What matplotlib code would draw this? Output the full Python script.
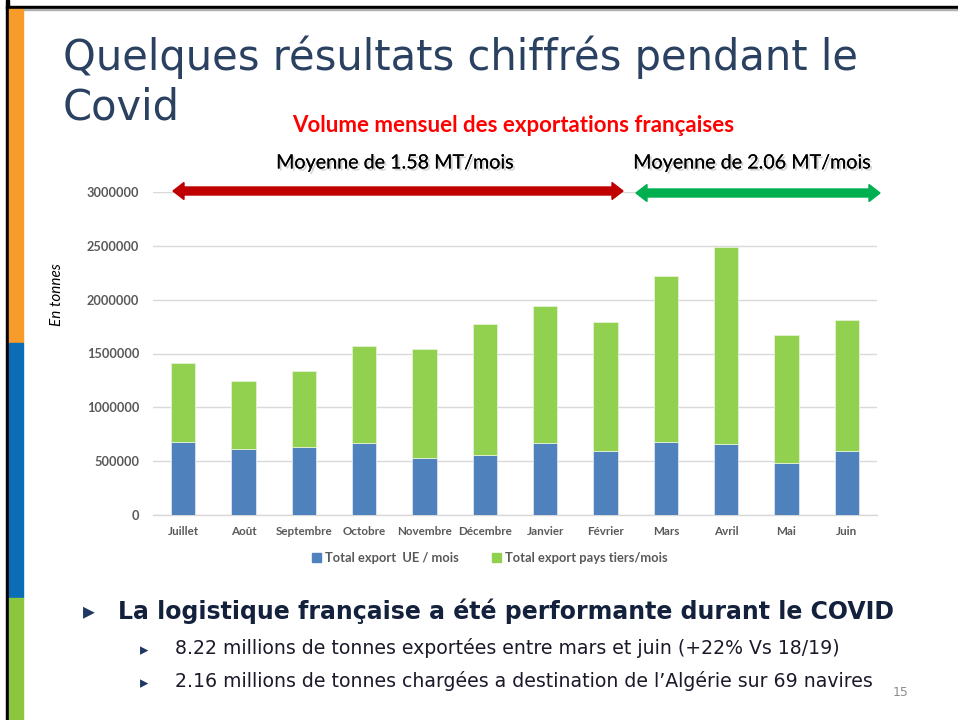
import numpy as np
import matplotlib.pyplot as plt
import matplotlib.patheffects as pe
from matplotlib.patches import Rectangle, Polygon, Patch

mois = ['Juillet', 'Août', 'Septembre', 'Octobre', 'Novembre', 'Décembre',
        'Janvier', 'Février', 'Mars', 'Avril', 'Mai', 'Juin']
export_ue = [677000, 612000, 631000, 672000, 528000, 556000,
             672000, 590000, 674000, 662000, 479000, 594000]
export_total = [1414000, 1246000, 1337000, 1567000, 1542000, 1778000,
                1937000, 1794000, 2223000, 2491000, 1675000, 1815000]
export_tiers = [t - u for t, u in zip(export_total, export_ue)]
yticks = [0, 500000, 1000000, 1500000, 2000000, 2500000, 3000000]

W, H = 958, 720
fig = plt.figure(figsize=(W / 100, H / 100), dpi=100)

def fx(px):
    return px / W

def fy(py):
    return 1 - py / H

# slide frame and coloured side stripe
fig.patches.append(Rectangle((fx(6), fy(720)), fx(3), 1, color='black', transform=fig.transFigure))
fig.patches.append(Rectangle((fx(6), fy(9)), 1, 3 / H, color='black', transform=fig.transFigure))
fig.patches.append(Rectangle((fx(23), fy(10)), 1, 1 / H, color='#b0b0b0', transform=fig.transFigure))
for y0, y1, c in [(9, 343, '#F79C2A'), (343, 598, '#0B6DB5'), (598, 720, '#8CC63F')]:
    fig.patches.append(Rectangle((fx(9), fy(y1)), fx(14), (y1 - y0) / H, color=c,
                                 transform=fig.transFigure))

# title
fig.text(fx(63), fy(70), 'Quelques résultats chiffrés pendant le', fontsize=30,
         color='#2B4161', va='baseline', ha='left', family='DejaVu Sans')
fig.text(fx(63), fy(120), 'Covid', fontsize=30,
         color='#2B4161', va='baseline', ha='left', family='DejaVu Sans')

fig.text(fx(513), fy(125), 'Volume mensuel des exportations françaises', fontsize=16,
         color='#FF0000', fontweight='bold', ha='center', va='center', family='Lato')

shadow = [pe.withSimplePatchShadow(offset=(1.5, -1.5), shadow_rgbFace='gray', alpha=0.35),
          pe.Normal()]
fig.text(fx(395), fy(163), 'Moyenne de 1.58 MT/mois', fontsize=14.2, ha='center', va='center',
         family='Lato', path_effects=shadow)
fig.text(fx(752), fy(163), 'Moyenne de 2.06 MT/mois', fontsize=14.2, ha='center', va='center',
         family='Lato', path_effects=shadow)

# chart
ax = fig.add_axes([fx(153), fy(515), fx(877) - fx(153), fy(192) - fy(515)])
x = np.arange(len(mois))
ax.bar(x, export_ue, width=0.4, color='#4F81BD', edgecolor='#dce6f2', linewidth=0.6,
       label='Total export  UE / mois', zorder=3)
ax.bar(x, export_tiers, width=0.4, bottom=export_ue, color='#92D050', edgecolor='#e4f2d5',
       linewidth=0.6, label='Total export pays tiers/mois', zorder=3)
ax.set_xlim(-0.5, len(mois) - 0.5)
ax.set_ylim(0, 3000000)
ax.set_yticks(yticks)
ax.set_yticklabels([str(v) for v in yticks])
ax.set_xticks(x)
ax.set_xticklabels(mois)
for lab in ax.get_yticklabels():
    lab.set_family('Lato')
    lab.set_fontweight('bold')
    lab.set_fontsize(9.2)
    lab.set_color('#595959')
for lab in ax.get_xticklabels():
    lab.set_family('Lato')
    lab.set_fontweight('bold')
    lab.set_fontsize(8.4)
    lab.set_color('#595959')
ax.tick_params(axis='x', length=0, pad=8)
ax.tick_params(axis='y', length=0, pad=10)
ax.grid(axis='y', color='#D9D9D9', linewidth=1, zorder=0)
for s in ['top', 'right', 'left']:
    ax.spines[s].set_visible(False)
ax.spines['bottom'].set_color('#D9D9D9')
ax.spines['bottom'].set_linewidth(1)
fig.text(fx(57), fy(295), 'En tonnes', fontsize=11, style='italic', family='Lato',
         rotation=90, ha='center', va='center')

handles = [Patch(color='#4F81BD', label='Total export  UE / mois'),
           Patch(color='#92D050', label='Total export pays tiers/mois')]
fig.legend(handles=handles, loc='center', bbox_to_anchor=(fx(490), fy(558)), ncol=2,
           frameon=False, prop={'family': 'Lato', 'weight': 'bold', 'size': 9.3},
           labelcolor='#595959', handlelength=0.7, handleheight=0.7, handletextpad=0.3,
           columnspacing=2.6)

# double-headed arrows
def arrow(x0, x1, yc, color):
    t, h, L = 4, 8.5, 11
    pts = [(x0, yc), (x0 + L, yc - h), (x0 + L, yc - t), (x1 - L, yc - t), (x1 - L, yc - h),
           (x1, yc), (x1 - L, yc + h), (x1 - L, yc + t), (x0 + L, yc + t), (x0 + L, yc + h)]
    fig.patches.append(Polygon([(fx(a), fy(b)) for a, b in pts], closed=True, color=color,
                               transform=fig.transFigure, zorder=5))

arrow(173, 623, 191, '#C00000')
arrow(636, 880, 193, '#00B050')

# bullets
navy = '#14213D'
fig.text(fx(89), fy(611), '▸', fontsize=17, color='#1F3864', ha='center', va='center',
         family='DejaVu Sans')
fig.text(fx(118), fy(611), 'La logistique française a été performante durant le COVID',
         fontsize=17, fontweight='bold', color=navy, ha='left', va='center',
         family='DejaVu Sans')
subs = ['8.22 millions de tonnes exportées entre mars et juin (+22% Vs 18/19)',
        '2.16 millions de tonnes chargées a destination de l\u2019Algérie sur 69 navires']
for yy, s in zip([648, 681], subs):
    fig.text(fx(144), fy(yy + 2), '▸', fontsize=12, color='#1F3864', ha='center', va='center',
             family='DejaVu Sans')
    fig.text(fx(175), fy(yy), s, fontsize=13.6, color='#1a1a2a', ha='left', va='center',
             family='DejaVu Sans')
fig.text(fx(901), fy(693), '15', fontsize=9, color='#8c8c8c', ha='center', va='center')

fig.savefig('out.png', dpi=100)
